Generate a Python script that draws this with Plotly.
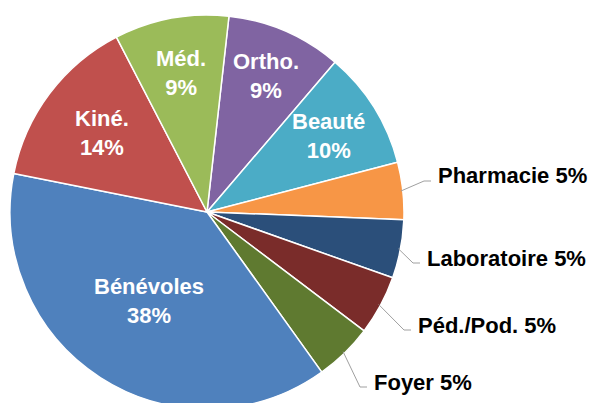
import math
import plotly.graph_objects as go

labels = ["Ortho.", "Beauté", "Pharmacie", "Laboratoire", "Péd./Pod.", "Foyer", "Bénévoles", "Kiné.", "Méd."]
values = [9.5, 9.7, 4.7, 4.8, 4.9, 4.8, 38.1, 14.3, 9.4]
colors = ["#8064A2", "#4BACC6", "#F79646", "#2B4F7A", "#7A2C2A", "#5F7A30", "#4F81BD", "#C0504D", "#9BBB59"]
outside = [False, False, True, True, True, True, False, False, False]
# inside label distance from centre (fraction of radius)
inside_r = {"Ortho.": 0.75, "Beauté": 0.73, "Bénévoles": 0.54, "Kiné.": 0.67, "Méd.": 0.72}
# outside label anchor (left x, middle y) in page pixels
label_pos = {"Pharmacie": (436, 176), "Laboratoire": (425, 258), "Péd./Pod.": (416, 325), "Foyer": (372, 382)}

OFF = 8  # page body margin
W, H = 596, 404
CX, CY, R = 207 - OFF, 212 - OFF, 197
ROT = 6.4
FONT = "Liberation Sans"

fig = go.Figure()
fig.add_trace(go.Pie(
    labels=labels, values=values, sort=False, direction="clockwise", rotation=ROT,
    marker=dict(colors=colors, line=dict(color="white", width=1.5)),
    textinfo="none",
    domain=dict(x=[(CX - R) / W, (CX + R) / W], y=[(H - CY - R) / H, (H - CY + R) / H]),
    showlegend=False, hoverinfo="label+percent",
))

total = sum(values)
cum = 0.0
shapes, annotations = [], []
for lab, v, o in zip(labels, values, outside):
    mid = ROT + (cum + v / 2) / total * 360
    cum += v
    a = math.radians(mid)
    pct = round(v / total * 100)
    if not o:
        k = inside_r[lab] * R
        px, py = CX + k * math.sin(a), CY - k * math.cos(a)
        annotations.append(dict(x=px / W, y=1 - py / H, xref="paper", yref="paper",
                                xanchor="center", yanchor="middle", showarrow=False,
                                text=f"<b>{lab}<br>{pct}%</b>",
                                font=dict(family=FONT, size=22, color="white")))
        continue
    sx, sy = CX + (R - 2) * math.sin(a), CY - (R - 2) * math.cos(a)
    tx, ty = label_pos[lab]
    tx, ty = tx - OFF, ty - OFF
    bx, by = tx - 12, ty + 5
    ex, ey = tx - 5, ty + 5
    path = f"M {sx/W},{1-sy/H} L {bx/W},{1-by/H} L {ex/W},{1-ey/H}"
    shapes.append(dict(type="path", xref="paper", yref="paper", path=path,
                       line=dict(color="#A0A0A0", width=1)))
    annotations.append(dict(x=tx / W, y=1 - ty / H, xref="paper", yref="paper",
                            xanchor="left", yanchor="middle", showarrow=False,
                            text=f"<b>{lab} {pct}%</b>",
                            font=dict(family=FONT, size=22, color="#000000")))

fig.update_layout(width=W, height=H, margin=dict(l=0, r=0, t=0, b=0),
                  paper_bgcolor="white", plot_bgcolor="white",
                  shapes=shapes, annotations=annotations)
fig.write_html("out.html")
